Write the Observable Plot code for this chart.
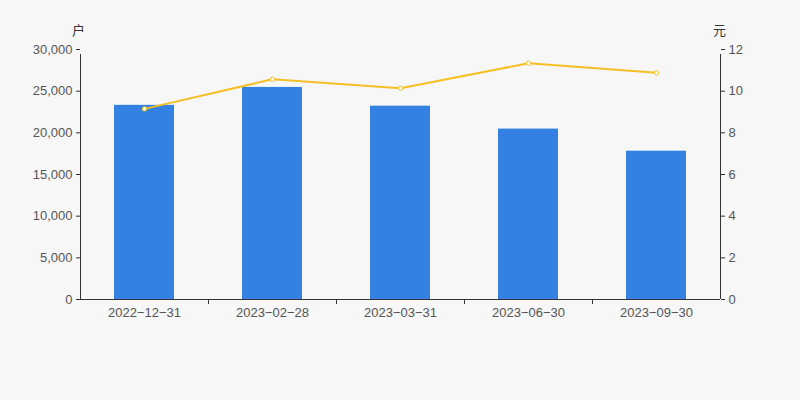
<!DOCTYPE html>
<html>
<head>
<meta charset="utf-8">
<script src="https://cdn.jsdelivr.net/npm/d3@7"></script>
<script src="https://cdn.jsdelivr.net/npm/@observablehq/plot@0.6"></script>
<style>
  html, body { margin: 0; padding: 0; background: #f7f7f7; }
  #chart svg { display: block; }
</style>
</head>
<body>
<div id="chart"></div>
<script>
const dates = ["2022-12-31", "2023-02-28", "2023-03-31", "2023-06-30", "2023-09-30"];
const holders = [23300, 25450, 23200, 20450, 17800];
const avgValue = [9.15, 10.57, 10.14, 11.34, 10.88];
const leftTicks = [0, 5000, 10000, 15000, 20000, 25000, 30000];
const rightTicks = [0, 2, 4, 6, 8, 10, 12];
const leftUnit = "户";
const rightUnit = "元";

const ratio = 30000 / 12;
const rows = dates.map((d, i) => ({date: d, holders: holders[i], value: avgValue[i]}));

const font = "'Liberation Sans', 'Noto Sans CJK SC', sans-serif";
const axisColor = "#333";
const textColor = "#555";

const chart = Plot.plot({
  width: 800,
  height: 400,
  marginLeft: 80,
  marginRight: 80,
  marginTop: 49,
  marginBottom: 101,
  style: {background: "#f7f7f7", fontFamily: font, fontSize: "13px", color: textColor},
  x: {domain: dates, paddingInner: 0.53, paddingOuter: 0.265, label: null},
  y: {domain: [0, 30000], label: null},
  marks: [
    Plot.barY(rows, {x: "date", y: "holders", fill: "#3381e2"}),
    // axis lines
    Plot.ruleY([0], {stroke: axisColor, strokeWidth: 1}),
    Plot.ruleX([dates[0]], {y1: 0, y2: 30000, dx: -64, insetBottom: -5, stroke: axisColor}),
    Plot.ruleX([dates[dates.length - 1]], {y1: 0, y2: 30000, dx: 64, insetBottom: -5, stroke: axisColor}),
    // category boundary ticks
    Plot.ruleX(dates.slice(1), {y1: 0, y2: 0, dx: -64, insetBottom: -5, stroke: axisColor}),
    Plot.axisY({anchor: "left", ticks: leftTicks, tickSize: 4, tickPadding: 4,
      tickFormat: d3.format(","), fill: textColor, stroke: axisColor, label: null, fontSize: 13}),
    Plot.axisY({anchor: "right", ticks: leftTicks, tickSize: 4, tickPadding: 4,
      tickFormat: d => d3.format("d")(d / ratio), fill: textColor, stroke: axisColor, label: null, fontSize: 13}),
    Plot.axisX({tickSize: 0, tickPadding: 8, tickFormat: d => d.replace(/-/g, "\u2212"),
      fill: textColor, label: null, fontSize: 13}),
    Plot.lineY(rows, {x: "date", y: d => d.value * ratio, stroke: "#f4c025", strokeWidth: 2}),
    Plot.dot(rows, {x: "date", y: d => d.value * ratio, r: 2.2, fill: "#fff", stroke: "#f4c025", strokeWidth: 1}),
    Plot.text([leftUnit], {frameAnchor: "top-left", dy: -24, dx: -2, textAnchor: "middle", fill: axisColor, fontSize: 13}),
    Plot.text([rightUnit], {frameAnchor: "top-right", dy: -24, dx: -1, textAnchor: "middle", fill: axisColor, fontSize: 13})
  ]
});
document.getElementById("chart").appendChild(chart);
</script>
</body>
</html>
